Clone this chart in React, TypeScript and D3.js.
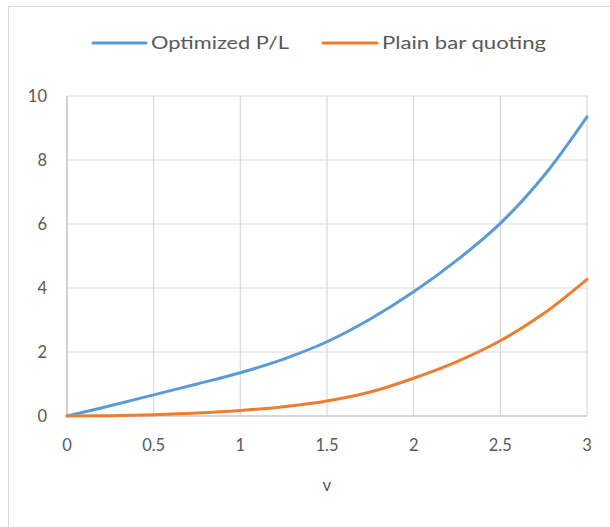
import React from "react";
import * as d3 from "d3";

const vValues = [0, 0.25, 0.5, 0.75, 1, 1.25, 1.5, 1.75, 2, 2.25, 2.5, 2.75, 3];
const optimizedPL = [0, 0.32, 0.66, 1.0, 1.35, 1.78, 2.32, 3.03, 3.88, 4.87, 6.02, 7.5, 9.35];
const plainBarQuoting = [0, 0.01, 0.04, 0.09, 0.17, 0.29, 0.47, 0.75, 1.18, 1.7, 2.35, 3.2, 4.27];
const xTicks = [0, 0.5, 1, 1.5, 2, 2.5, 3];
const yTicks = [0, 2, 4, 6, 8, 10];
const seriesNames = ["Optimized P/L", "Plain bar quoting"];
const xAxisTitle = "v";

const W = 610;
const H = 527;
const FONT = "Lato, 'Open Sans', sans-serif";
const TEXT = "#595959";

export default function App() {
  const x = d3.scaleLinear().domain([0, 3]).range([67, 587]);
  const y = d3.scaleLinear().domain([0, 10]).range([416, 96]);
  const line = d3
    .line<number>()
    .x((_, i) => x(vValues[i]))
    .y((d) => y(d))
    .curve(d3.curveCatmullRom.alpha(0.5));

  const series = [
    { name: seriesNames[0], data: optimizedPL, color: "#5B9BD5" },
    { name: seriesNames[1], data: plainBarQuoting, color: "#ED7D31" },
  ];
  const legend = [
    { x1: 93, x2: 146, tx: 151, tl: 138 },
    { x1: 323, x2: 377, tx: 382, tl: 164 },
  ];

  return (
    <svg
      width={W}
      height={H}
      style={{ position: "absolute", left: 0, top: 0, background: "#fff" }}
    >
      <rect x={8.5} y={6.5} width={700} height={700} fill="#fff" stroke="#d9d9d9" strokeWidth={1} />
      {xTicks.map((t) => (
        <line key={"gx" + t} x1={x(t)} x2={x(t)} y1={y(10)} y2={y(0)} stroke="#d9d9d9" strokeWidth={1.2} />
      ))}
      {yTicks.map((t) => (
        <line key={"gy" + t} x1={x(0)} x2={x(3)} y1={y(t)} y2={y(t)} stroke="#d9d9d9" strokeWidth={1.2} />
      ))}
      <line x1={x(0)} x2={x(0)} y1={y(10)} y2={y(0)} stroke="#bfbfbf" strokeWidth={1.2} />
      <line x1={x(0)} x2={x(3)} y1={y(0)} y2={y(0)} stroke="#bfbfbf" strokeWidth={1.2} />
      {yTicks.map((t) => (
        <text key={"ly" + t} x={47} y={y(t)} dy="0.35em" textAnchor="end" fontFamily={FONT} fontSize={16.5} fill={TEXT}>
          {t}
        </text>
      ))}
      {xTicks.map((t) => (
        <text key={"lx" + t} x={x(t)} y={445} dy="0.35em" textAnchor="middle" fontFamily={FONT} fontSize={16.5} fill={TEXT}>
          {t}
        </text>
      ))}
      <text x={(x(0) + x(3)) / 2} y={485} dy="0.35em" textAnchor="middle" fontFamily={FONT} fontSize={17} fill={TEXT}>
        {xAxisTitle}
      </text>
      {series.map((s) => (
        <path key={s.name} d={line(s.data) || ""} fill="none" stroke={s.color} strokeWidth={3} strokeLinecap="round" />
      ))}
      {series.map((s, i) => (
        <g key={"lg" + i}>
          <line x1={legend[i].x1} x2={legend[i].x2} y1={43} y2={43} stroke={s.color} strokeWidth={3} strokeLinecap="round" />
          <text
            x={legend[i].tx}
            y={43}
            dy="0.35em"
            fontFamily={FONT}
            fontSize={17}
            fill={TEXT}
            textLength={legend[i].tl}
            lengthAdjust="spacingAndGlyphs"
          >
            {s.name}
          </text>
        </g>
      ))}
    </svg>
  );
}
